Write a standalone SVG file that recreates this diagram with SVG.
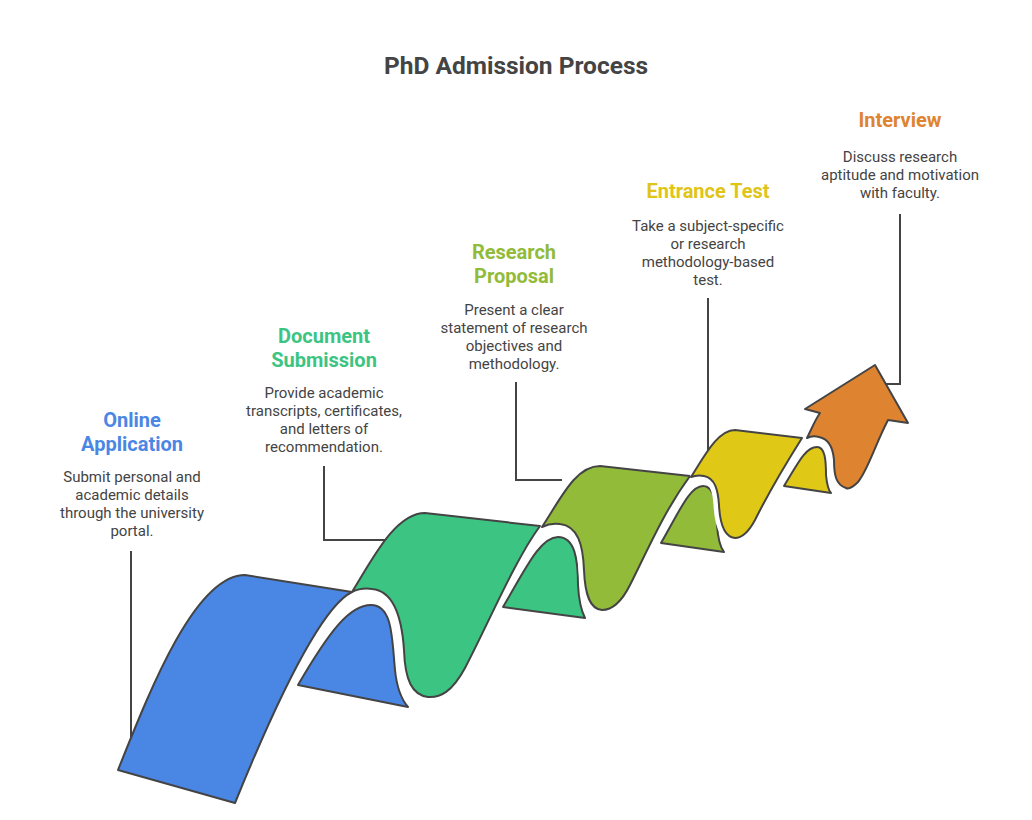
<svg xmlns="http://www.w3.org/2000/svg" width="1032" height="820" viewBox="0 0 1032 820">
<style>
text{font-family:Roboto,"Liberation Sans",sans-serif;text-anchor:middle}
.t{font-size:24.5px;font-weight:bold;fill:#444}
.h{font-size:20px;font-weight:bold}
.d{font-size:15px;fill:#444}
.s{stroke:#444;stroke-width:2;stroke-linejoin:round}
.halo{fill:none;stroke:#fff;stroke-width:11;stroke-linejoin:round}
.c{fill:none;stroke:#444;stroke-width:2}
</style>
<rect width="1032" height="820" fill="#fff"/>
<text class="t" x="516" y="74">PhD Admission Process</text>
<g id="connectors">
<path class="c" d="M131,551 V738"/>
<path class="c" d="M324,466 V540 H386"/>
<path class="c" d="M516,382 V480 H562"/>
<path class="c" d="M708,298 V452"/>
<path class="c" d="M900,214 V384 H884"/>
</g>
<g id="online-application">
<path class="s" fill="#4a86e4" d="M298,685 C330,630 350,605 371,605 C393,605 392,640 395,670 C397,690 402,700 408,707 Z"/>
<path class="s" fill="#4a86e4" d="M118,770 C150,690 195,575 245,575 L352,592 C325,605 285,680 235,803 Z"/>
<text class="h" fill="#4a86e4" x="132" y="427">Online</text>
<text class="h" fill="#4a86e4" x="132" y="451">Application</text>
<text class="d" x="132" y="482">Submit personal and</text>
<text class="d" x="132" y="500">academic details</text>
<text class="d" x="132" y="518">through the university</text>
<text class="d" x="132" y="536">portal.</text>
</g>
<g id="document-submission">
<path class="s" fill="#3cc483" d="M503,607 C525,570 540,537 558,537 C575,537 578,560 578,585 C579,605 582,612 585,618 Z"/>
<path class="halo" d="M352,592 C358,589 365,588 372,589 C395,591 402,620 404,650 C405,680 412,695 428,697"/>
<path class="s" fill="#3cc483" d="M352,592 C372,560 395,513 425,513 L540,526 C515,560 490,620 465,668 C452,692 440,698 428,697 C412,695 405,680 404,650 C402,620 395,591 372,589 C365,588 358,589 352,592 Z"/>
<text class="h" fill="#3cc483" x="324" y="343">Document</text>
<text class="h" fill="#3cc483" x="324" y="367">Submission</text>
<text class="d" x="324" y="398">Provide academic</text>
<text class="d" x="324" y="416">transcripts, certificates,</text>
<text class="d" x="324" y="434">and letters of</text>
<text class="d" x="324" y="452">recommendation.</text>
</g>
<g id="research-proposal">
<path class="s" fill="#92bb3a" d="M661,543 C680,510 690,486 703,486 C715,486 717,505 717,525 C718,540 720,547 724,552 Z"/>
<path class="halo" d="M542,527 C548,524 553,523 560,524 C578,526 583,545 584,570 C585,595 590,609 602,610"/>
<path class="s" fill="#92bb3a" d="M542,527 C560,500 575,466 600,466 L690,476 C665,510 650,545 630,585 C620,605 610,610 602,610 C590,609 585,595 584,570 C583,545 578,526 560,524 C553,523 548,524 542,527 Z"/>
<text class="h" fill="#92bb3a" x="514" y="259">Research</text>
<text class="h" fill="#92bb3a" x="514" y="283">Proposal</text>
<text class="d" x="514" y="315">Present a clear</text>
<text class="d" x="514" y="333">statement of research</text>
<text class="d" x="514" y="351">objectives and</text>
<text class="d" x="514" y="369">methodology.</text>
</g>
<g id="entrance-test">
<path class="s" fill="#e0c916" d="M784,486 C797,465 805,447 817,447 C825,447 826,460 826,475 C827,485 828,490 831,493 Z"/>
<path class="halo" d="M691,477 C696,475 700,475 704,476 C715,478 718,490 719,505 C720,525 725,537 735,538"/>
<path class="s" fill="#e0c916" d="M691,477 C705,455 718,430 735,430 L802,438 C785,465 770,490 755,520 C748,533 742,538 735,538 C725,537 720,525 719,505 C718,490 715,478 704,476 C700,475 696,475 691,477 Z"/>
<text class="h" fill="#e0c416" x="708" y="198">Entrance Test</text>
<text class="d" x="708" y="231">Take a subject-specific</text>
<text class="d" x="708" y="249">or research</text>
<text class="d" x="708" y="267">methodology-based</text>
<text class="d" x="708" y="285">test.</text>
</g>
<g id="interview">
<path class="halo" d="M807,438 C811,436 815,436 819,437 C829,439 833,448 834,460 C834,475 836,485 846,488"/>
<path class="s" fill="#de8431" d="M807,438 C812,428 815,420 820,413 L805,409 L875,365 L908,423 L888,420 C875,445 868,470 858,482 C852,488 848,489 846,488 C836,485 834,475 834,460 C833,448 829,439 819,437 C815,436 811,436 807,438 Z"/>
<text class="h" fill="#de8431" x="900" y="127">Interview</text>
<text class="d" x="900" y="162">Discuss research</text>
<text class="d" x="900" y="180">aptitude and motivation</text>
<text class="d" x="900" y="198">with faculty.</text>
</g>
</svg>
